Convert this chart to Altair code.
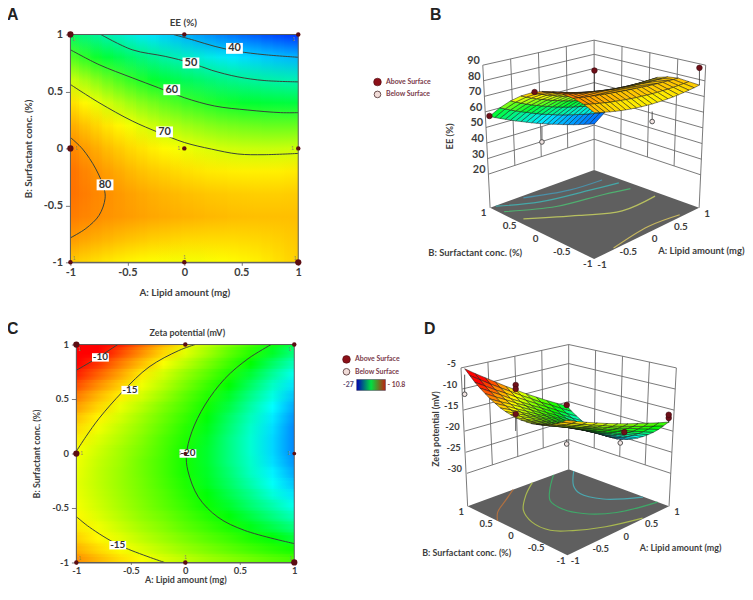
import altair as alt

TICKS = [-1, -0.5, 0, 0.5, 1]
COL_X = [round(-1 + 0.1 * i, 1) for i in range(21)]
ROW_Y = [round(-1 + 0.2 * i, 1) for i in range(11)]
ZETA_X = ROW_Y
ZETA_Y = COL_X

# EE (%), one row per B value (bottom to top), one value per A value
EE_VALUES = [
    [76.0, 75.1, 74.4, 73.7, 73.1, 72.6, 72.2, 71.9, 71.7, 71.5, 71.5, 71.5, 71.7, 71.9, 72.2, 72.6, 73.1, 73.7, 74.4, 75.1, 76.0],
    [79.8, 79.0, 78.3, 77.7, 77.1, 76.6, 76.2, 75.8, 75.5, 75.2, 75.0, 74.9, 74.8, 74.8, 74.8, 75.0, 75.1, 75.4, 75.7, 76.1, 76.5],
    [82.1, 81.6, 81.0, 80.5, 80.1, 79.7, 79.3, 78.9, 78.6, 78.3, 78.0, 77.8, 77.6, 77.4, 77.2, 77.1, 77.0, 77.0, 77.0, 77.0, 77.0],
    [83.0, 82.2, 81.4, 80.7, 80.0, 79.4, 78.8, 78.3, 77.8, 77.4, 77.0, 76.7, 76.4, 76.2, 76.0, 75.9, 75.8, 75.8, 75.8, 75.9, 76.0],
    [82.8, 81.6, 80.5, 79.5, 78.5, 77.6, 76.8, 76.1, 75.5, 74.9, 74.4, 74.0, 73.6, 73.4, 73.2, 73.1, 73.1, 73.1, 73.2, 73.4, 73.7],
    [81.2, 79.8, 78.5, 77.2, 76.1, 75.0, 74.1, 73.2, 72.4, 71.6, 71.0, 70.4, 70.0, 69.6, 69.3, 69.1, 69.0, 68.9, 69.0, 69.1, 69.3],
    [78.3, 76.7, 75.3, 73.9, 72.6, 71.4, 70.2, 69.2, 68.2, 67.4, 66.6, 65.9, 65.3, 64.8, 64.4, 64.1, 63.8, 63.6, 63.6, 63.6, 63.7],
    [74.2, 72.5, 70.9, 69.4, 68.0, 66.7, 65.4, 64.3, 63.2, 62.2, 61.3, 60.5, 59.8, 59.1, 58.6, 58.1, 57.7, 57.4, 57.2, 57.0, 57.0],
    [68.8, 67.1, 65.4, 63.8, 62.3, 60.9, 59.6, 58.3, 57.1, 56.0, 55.0, 54.1, 53.2, 52.4, 51.7, 51.1, 50.5, 50.0, 49.6, 49.3, 49.1],
    [62.1, 60.4, 58.7, 57.1, 55.6, 54.2, 52.8, 51.4, 50.1, 48.9, 47.8, 46.7, 45.7, 44.8, 43.9, 43.1, 42.3, 41.6, 40.9, 40.4, 39.9],
    [54.2, 52.5, 50.9, 49.3, 47.8, 46.3, 44.9, 43.5, 42.1, 40.8, 39.6, 38.4, 37.3, 36.2, 35.1, 34.1, 33.1, 32.2, 31.4, 30.6, 29.8],
]

# Zeta potential (mV), one row per B value (bottom to top), one value per A value
ZETA_VALUES = [
    [-12.8, -13.6, -14.4, -15.1, -15.8, -16.4, -17.0, -17.5, -18.0, -18.5, -18.9],
    [-13.5, -14.3, -15.1, -15.8, -16.5, -17.2, -17.8, -18.4, -19.0, -19.5, -20.0],
    [-14.1, -14.9, -15.6, -16.4, -17.1, -17.8, -18.5, -19.1, -19.8, -20.4, -21.1],
    [-14.6, -15.3, -16.1, -16.9, -17.6, -18.4, -19.1, -19.8, -20.6, -21.3, -22.0],
    [-14.9, -15.7, -16.5, -17.3, -18.0, -18.8, -19.6, -20.4, -21.2, -22.0, -22.8],
    [-15.2, -16.0, -16.8, -17.6, -18.4, -19.2, -20.1, -20.9, -21.8, -22.6, -23.5],
    [-15.4, -16.2, -17.0, -17.8, -18.6, -19.5, -20.4, -21.3, -22.2, -23.2, -24.1],
    [-15.5, -16.3, -17.1, -17.9, -18.8, -19.7, -20.7, -21.6, -22.6, -23.6, -24.6],
    [-15.4, -16.3, -17.1, -18.0, -18.9, -19.9, -20.8, -21.8, -22.9, -23.9, -25.0],
    [-15.3, -16.2, -17.0, -18.0, -18.9, -19.9, -20.9, -22.0, -23.0, -24.2, -25.3],
    [-15.1, -16.0, -16.9, -17.8, -18.8, -19.9, -20.9, -22.0, -23.1, -24.3, -25.5],
    [-14.7, -15.7, -16.6, -17.6, -18.7, -19.7, -20.8, -22.0, -23.1, -24.3, -25.5],
    [-14.3, -15.3, -16.3, -17.3, -18.4, -19.5, -20.6, -21.8, -23.0, -24.2, -25.5],
    [-13.8, -14.8, -15.9, -17.0, -18.1, -19.2, -20.4, -21.6, -22.8, -24.0, -25.3],
    [-13.1, -14.2, -15.4, -16.5, -17.7, -18.8, -20.0, -21.2, -22.5, -23.7, -25.0],
    [-12.4, -13.6, -14.7, -15.9, -17.1, -18.4, -19.6, -20.8, -22.1, -23.3, -24.6],
    [-11.5, -12.8, -14.0, -15.3, -16.5, -17.8, -19.1, -20.3, -21.6, -22.9, -24.1],
    [-10.6, -11.9, -13.2, -14.6, -15.9, -17.2, -18.4, -19.7, -21.0, -22.3, -23.5],
    [-9.6, -11.0, -12.4, -13.7, -15.1, -16.4, -17.7, -19.0, -20.3, -21.6, -22.8],
    [-8.4, -9.9, -11.4, -12.8, -14.2, -15.6, -16.9, -18.3, -19.5, -20.8, -22.0],
    [-7.2, -8.8, -10.3, -11.8, -13.3, -14.7, -16.1, -17.4, -18.7, -19.9, -21.1],
]

EE_STOPS = [(30, "#0030ff"), (44, "#00e8ff"), (58, "#00ff30"), (72, "#ffff00"), (92, "#ff0000")]
ZETA_STOPS = [(-26.8, "#0030ff"), (-23.7, "#00ffff"), (-20.3, "#00ff00"), (-15, "#ffff00"), (-10, "#ff0000")]

EE_CONTOURS = {
    "40": [(-0.096, 1), (0.09, 0.948), (0.27, 0.895), (0.47, 0.852), (0.7, 0.823), (1, 0.8)],
    "50": [(-0.733, 1), (-0.458, 0.866), (-0.168, 0.808), (0.06, 0.75), (0.24, 0.686), (0.47, 0.628), (0.7, 0.596), (1, 0.584)],
    "60": [(-1, 0.866), (-0.748, 0.735), (-0.458, 0.62), (-0.226, 0.532), (0, 0.445), (0.267, 0.372), (0.557, 0.337), (0.846, 0.314), (1, 0.314)],
    "70": [(-1, 0.561), (-0.748, 0.401), (-0.458, 0.241), (-0.226, 0.14), (0, 0.052), (0.238, -0.006), (0.47, -0.049), (0.7, -0.055), (1, -0.044)],
    "80": [(-1, 0.096), (-0.893, -0.006), (-0.777, -0.18), (-0.704, -0.355), (-0.696, -0.442), (-0.748, -0.587), (-0.864, -0.703), (-1, -0.785)],
}
EE_LABELS = [("40", 0.44, 0.878), ("50", 0.058, 0.75), ("60", -0.11, 0.515), ("70", -0.174, 0.145), ("80", -0.696, -0.32)]

ZETA_CONTOURS = {
    "-10": [(-1, 0.764), (-0.82, 0.87), (-0.62, 1)],
    "-15a": [(-1, 0.02), (-0.91, 0.158), (-0.79, 0.324), (-0.576, 0.567), (-0.333, 0.794), (-0.06, 0.945), (0.09, 1)],
    "-15b": [(-1, -0.579), (-0.88, -0.676), (-0.606, -0.842), (-0.19, -1)],
    "-20": [(0.788, 1), (0.576, 0.87), (0.364, 0.688), (0.18, 0.445), (0.06, 0.2), (0.01, -0.01), (0.024, -0.16), (0.12, -0.4), (0.3, -0.585), (0.545, -0.706), (1, -0.827)],
}
ZETA_LABELS = [("-10", -0.779, 0.882), ("-15", -0.509, 0.582), ("-15", -0.62, -0.842), ("-20", 0.024, 0)]

DESIGN_A = [-1, 0, 1, -1, 0, 1, -1, 0, 1]
DESIGN_B = [1, 1, 1, 0, 0, 0, -1, -1, -1]
EE_DESIGN_SIZE = [40, 20, 20, 40, 20, 20, 20, 20, 40]
ZETA_DESIGN_SIZE = [40, 20, 20, 40, 14, 14, 20, 20, 40]

# replicate counts printed next to the design points: A, B
REPLICATE_MARKS = [(-0.97, 0.96), (0.96, 0.96), (-0.95, 0), (-0.05, 0), (0.95, 0), (-0.97, -0.96), (0, -0.95), (0.97, -0.96)]

# contours on the floor of the 3D panels: A, B, colour
EE_FLOOR = [
    ([(-0.41, 0.95), (0.245, 0.725), (0.815, 0.665)], "#4a90a8"),
    ([(-0.9, 0.99), (-0.33, 0.71), (0.43, 0.535), (0.9, 0.43)], "#45a8a8"),
    ([(-0.93, 0.8), (-0.27, 0.46), (0.475, 0.295), (0.86, 0.17)], "#4fb070"),
    ([(-0.885, 0.475), (-0.24, 0.05), (0.265, -0.265), (0.9, -0.26)], "#b8c060"),
    ([(-0.6, -0.97), (0.16, -0.87), (0.685, -0.945)], "#c8b860"),
]
ZETA_FLOOR = [
    ([(-1, 0.4), (-0.8, 0.6), (-0.45, 0.8), (-0.1, 1)], "#b07040"),
    ([(0.28, 1), (-0.12, 0.73), (-0.48, 0.41), (-0.66, 0.055), (-0.65, -0.3), (-0.43, -0.53), (-0.03, -0.78), (0.5, -0.98)], "#a8b850"),
    ([(0.7, 1), (0.29, 0.66), (0.02, 0.38), (-0.05, 0.05), (0.05, -0.25), (0.39, -0.57), (1, -0.77)], "#3fa868"),
    ([(1, 0.9), (0.62, 0.52), (0.49, 0.26), (0.58, -0.11), (0.99, -0.49)], "#4aa8b0"),
]

# design points in the 3D panels: A, B, measured, surface, above
EE_POINTS = [
    (-1, 1, 54.5, 54.2, True), (-1, 0.14, 79.4, 80, True), (1, 1, 67, 30, True), (1, -1, 88, 76, True),
    (-1, 0, 46, 56.5, False), (1, -0.1, 42, 49, False),
]
ZETA_POINTS = [
    (-1, 0, -7.9, -12, True), (-1, 0, -8.8, -12, True), (-1, 0, -14.3, -18, True), (1, 1, -20.9, -22, True),
    (1, -0.13, -23.6, -25, True), (1, -1, -18, -19, True), (1, -1, -17.3, -19, True),
    (-1, 1, -12.8, -8.5, False), (-1, -1, -18, -17, False), (1, -0.05, -26.2, -24.8, False),
]

EE_TICKS = [90, 80, 70, 60, 50, 40, 30, 20]
ZETA_TICKS = [-5, -10, -15, -20, -25, -30]
FLOOR_TICKS = [1, 0.5, 0, -0.5, -1]

DARK = "#3d3d3d"
FONT = "Lato"


def colour_of(z, stops):
    if z <= stops[0][0]:
        return stops[0][1]
    for (z0, c0), (z1, c1) in zip(stops, stops[1:]):
        if z <= z1:
            t = (z - z0) / (z1 - z0)
            rgb = [round(int(c0[i:i + 2], 16) * (1 - t) + int(c1[i:i + 2], 16) * t) for i in (1, 3, 5)]
            return "#%02x%02x%02x" % tuple(rgb)
    return stops[-1][1]


def lerp(a, b, t):
    return a + (b - a) * t


def contour_rows(contours):
    rows = []
    for key, pts in contours.items():
        for i, (a, b) in enumerate(pts):
            rows.append({"key": key, "i": i, "a": a, "b": b})
    return rows


def flat_panel(strip_layers, contours, labels, design_sizes, title, title_x, title_y, letter, letter_x, letter_y, size, font_size, lab_w, lab_h, tick_font, x_tick, x_title_pad, y_title_pad):
    sx = alt.Scale(domain=[-1, 1], nice=False)
    sy = alt.Scale(domain=[-1, 1], nice=False)
    x_axis = alt.Axis(values=TICKS, labelExpr="'' + datum.value", title="A: Lipid amount (mg)", grid=False, labelFontSize=tick_font,
                      tickSize=x_tick, labelPadding=1.5, titlePadding=x_title_pad, labelFlush=False, titleFontSize=font_size)
    y_axis = alt.Axis(values=TICKS, labelExpr="'' + datum.value", title="B: Surfactant conc. (%)", grid=False, labelFontSize=tick_font,
                      tickSize=5, labelPadding=3, titlePadding=y_title_pad, labelFlush=False, titleFontSize=font_size)
    heat = []
    for k, (strips, op) in enumerate(strip_layers):
        x_enc = alt.X("x0:Q", scale=sx, axis=x_axis) if k == 0 else alt.X("x0:Q", scale=sx)
        y_enc = alt.Y("y0:Q", scale=sy, axis=y_axis) if k == 0 else alt.Y("y0:Q", scale=sy)
        heat.append(
            alt.Chart(alt.Data(values=strips))
            .mark_rect(clip=True, opacity=op)
            .encode(x=x_enc, x2="x1:Q", y=y_enc, y2="y1:Q", color=alt.Color("grad:N", scale=None))
        )
    lines = (
        alt.Chart(alt.Data(values=contour_rows(contours)))
        .mark_line(color="#39433a", strokeWidth=1, interpolate="catmull-rom", clip=True)
        .encode(x=alt.X("a:Q", scale=sx), y=alt.Y("b:Q", scale=sy), detail="key:N", order="i:Q")
    )
    dx, dy = lab_w / size, lab_h / size
    lab_rows = [{"t": t, "a": a, "b": b, "a0": a - dx, "a1": a + dx, "b0": b - dy, "b1": b + dy} for t, a, b in labels]
    boxes = (
        alt.Chart(alt.Data(values=lab_rows))
        .mark_rect(color="white")
        .encode(x=alt.X("a0:Q", scale=sx), x2="a1:Q", y=alt.Y("b0:Q", scale=sy), y2="b1:Q")
    )
    words = (
        alt.Chart(alt.Data(values=lab_rows))
        .mark_text(font=FONT, fontSize=font_size + 1, fontWeight="bold", color="#333333")
        .encode(x=alt.X("a:Q", scale=sx), y=alt.Y("b:Q", scale=sy), text="t:N")
    )
    border = (
        alt.Chart(alt.Data(values=[{"a0": -1, "a1": 1, "b0": -1, "b1": 1}]))
        .mark_rect(fillOpacity=0, stroke="#5a5a5a", strokeWidth=1)
        .encode(x=alt.X("a0:Q", scale=sx), x2="a1:Q", y=alt.Y("b0:Q", scale=sy), y2="b1:Q")
    )
    pts = (
        alt.Chart(alt.Data(values=[{"a": a, "b": b, "s": s} for a, b, s in zip(DESIGN_A, DESIGN_B, design_sizes)]))
        .mark_circle(color="#5c0d12", opacity=1, clip=False)
        .encode(x=alt.X("a:Q", scale=sx), y=alt.Y("b:Q", scale=sy), size=alt.Size("s:Q", scale=None))
    )
    reps = (
        alt.Chart(alt.Data(values=[{"a": a, "b": b, "t": "1"} for a, b in REPLICATE_MARKS]))
        .mark_text(font=FONT, fontSize=5, color="#8a8a6a")
        .encode(x=alt.X("a:Q", scale=sx), y=alt.Y("b:Q", scale=sy), text="t:N")
    )
    head = (
        alt.Chart(alt.Data(values=[{"t": title}]))
        .mark_text(font=FONT, fontSize=font_size, fontWeight="bold", color=DARK)
        .encode(x=alt.value(title_x), y=alt.value(title_y), text="t:N")
    )
    mark = (
        alt.Chart(alt.Data(values=[{"t": letter}]))
        .mark_text(font="Liberation Sans", fontSize=16, fontWeight="bold", color="#222222", align="left", baseline="alphabetic")
        .encode(x=alt.value(letter_x), y=alt.value(letter_y), text="t:N")
    )
    return alt.layer(*heat, lines, boxes, words, reps, border, pts, head, mark).properties(
        width=size, height=size, view=alt.ViewBackground(stroke=None)
    )


def surface_panel(cfg):
    x0, y0, w, h = cfg["frame"]
    sx = alt.Scale(domain=[x0, x0 + w], nice=False)
    sy = alt.Scale(domain=[y0 + h, y0], nice=False)
    enc = dict(x=alt.X("x:Q", scale=sx, axis=None), y=alt.Y("y:Q", scale=sy, axis=None))

    left, back, right, front = cfg["floor"]

    def floor(a, b):
        u, v = (a + 1) / 2, (b + 1) / 2
        return (
            lerp(lerp(front[0], right[0], u), lerp(left[0], back[0], u), v),
            lerp(lerp(front[1], right[1], u), lerp(left[1], back[1], u), v),
        )

    def skin(a, b, z):
        sc = cfg["skin"]
        return sc[0] + sc[1] * (a - b), sc[2] - sc[3] * (a + b) - sc[4] * z

    z_top, z_low = cfg["levels"]

    def post(name, z):
        f = (z_top - z) / (z_top - z_low)
        p = cfg["walls"][name]
        return lerp(p[0], p[1], f), lerp(p[2], p[3], f)

    def wall(t, z, far):
        p0, p1 = post(far, z), post("back", z)
        return lerp(p0[0], p1[0], t), lerp(p0[1], p1[1], t)

    def poly(points, c):
        ring = [[px - x0, py - y0] for px, py in points]
        ring.append(ring[0])
        return {"type": "Feature", "geometry": {"type": "Polygon", "coordinates": [ring]}, "properties": {"c": c}}

    # grid lines on both walls
    rules = []

    def seg(p, q):
        rules.append({"x": p[0], "y": p[1], "x2": q[0], "y2": q[1]})

    for far in ("left", "right"):
        for z in cfg["ticks"]:
            seg(wall(0, z, far), wall(1, z, far))
        for t in (0.25, 0.5, 0.75):
            seg(wall(t, z_top, far), wall(t, z_low, far))
    seg(post("left", z_top), left)
    seg(post("right", z_top), right)
    seg(post("back", z_top), back)

    floor_shape = (
        alt.Chart(alt.Data(values=[poly([left, back, right, front], "#5f5f5f")]))
        .mark_geoshape(strokeWidth=0)
        .encode(color=alt.Color("properties.c:N", scale=None))
        .project(type="identity", scale=1, translate=[0, 0])
    )
    grid = (
        alt.Chart(alt.Data(values=rules))
        .mark_rule(color="#6a6a6a", strokeWidth=0.9)
        .encode(x=enc["x"], y=enc["y"], x2="x2:Q", y2="y2:Q")
    )

    rows = []
    for k, (pts, c) in enumerate(cfg["floor_lines"]):
        for i, (a, b) in enumerate(pts):
            px, py = floor(a, b)
            rows.append({"key": k, "i": i, "x": px, "y": py, "c": c})
    floor_lines = (
        alt.Chart(alt.Data(values=rows))
        .mark_line(strokeWidth=1.2, interpolate="catmull-rom")
        .encode(x=enc["x"], y=enc["y"], detail="key:N", order="i:Q", color=alt.Color("c:N", scale=None))
    )

    # surface cells, far ones first
    xs, ys, vals = cfg["grid"]
    cells = []
    for j in range(len(ys) - 1):
        for i in range(len(xs) - 1):
            corners = [(i, j), (i + 1, j), (i + 1, j + 1), (i, j + 1)]
            mean = sum(vals[n][m] for m, n in corners) / 4
            outline = [skin(xs[m], ys[n], vals[n][m]) for m, n in corners]
            cells.append((xs[i] + ys[j], poly(outline, colour_of(mean, cfg["stops"]))))
    cells.sort(key=lambda c: -c[0])
    surface = (
        alt.Chart(alt.Data(values=[c[1] for c in cells]))
        .mark_geoshape(stroke="#141414", strokeWidth=0.5)
        .encode(color=alt.Color("properties.c:N", scale=None))
        .project(type="identity", scale=1, translate=[0, 0])
    )

    stems, above, below = [], [], []
    for a, b, z, zs, up in cfg["points"]:
        p, q = skin(a, b, z), skin(a, b, zs)
        stems.append({"x": p[0], "y": p[1], "x2": q[0], "y2": q[1]})
        (above if up else below).append({"x": p[0], "y": p[1]})
    stem_lines = (
        alt.Chart(alt.Data(values=stems))
        .mark_rule(color="#444444", strokeWidth=0.9)
        .encode(x=enc["x"], y=enc["y"], x2="x2:Q", y2="y2:Q")
    )
    up_pts = alt.Chart(alt.Data(values=above)).mark_point(
        filled=True, color="#6e0f18", size=32, opacity=1, stroke="#3a0a10", strokeWidth=0.6
    ).encode(**enc)
    low_pts = alt.Chart(alt.Data(values=below)).mark_point(
        filled=True, color="#f1e4e2", size=22, opacity=1, stroke="#505050", strokeWidth=1
    ).encode(**enc)

    def text_layer(rows, size, **kw):
        kw.setdefault("color", DARK)
        return (
            alt.Chart(alt.Data(values=rows))
            .mark_text(font=FONT, fontSize=size, fontWeight="bold", **kw)
            .encode(x=enc["x"], y=enc["y"], text="t:N")
        )

    z_rows = []
    for z in cfg["ticks"]:
        px, py = post("left", z)
        z_rows.append({"x": px - cfg["z_pad"], "y": py - 4, "t": str(z)})
    b_rows, a_rows = [], []
    for v in FLOOR_TICKS:
        px, py = floor(-1, v)
        b_rows.append({"x": px - 6.5, "y": py + 5.5, "t": str(v).replace(".0", "")})
        px, py = floor(v, -1)
        a_rows.append({"x": px + 8, "y": py + 6, "t": str(v).replace(".0", "")})

    layers = [
        floor_shape, grid, floor_lines, stem_lines, surface, up_pts, low_pts,
        text_layer(z_rows, cfg["z_font"], align="right"),
        text_layer(a_rows + b_rows, cfg["floor_font"]),
        text_layer([{"x": cfg["b_title"][0], "y": cfg["b_title"][1], "t": "B: Surfactant conc. (%)"},
                    {"x": cfg["a_title"][0], "y": cfg["a_title"][1], "t": "A: Lipid amount (mg)"}], cfg["floor_font"] - 0.5),
        text_layer([{"x": cfg["z_title"][0], "y": cfg["z_title"][1], "t": cfg["z_name"]}], cfg["floor_font"] - 0.5, angle=270),
        alt.Chart(alt.Data(values=[{"x": cfg["letter"][1], "y": cfg["letter"][2], "t": cfg["letter"][0]}]))
        .mark_text(font="Liberation Sans", fontSize=16, fontWeight="bold", color="#222222", align="left", baseline="alphabetic")
        .encode(x=enc["x"], y=enc["y"], text="t:N"),
    ]

    # Above / Below Surface key that sits between the columns
    kx, ky = cfg["key"]
    layers += [
        alt.Chart(alt.Data(values=[{"x": kx, "y": ky}])).mark_point(
            filled=True, color="#8c1018", size=60, opacity=1, stroke="#4a0a10", strokeWidth=0.6
        ).encode(**enc),
        alt.Chart(alt.Data(values=[{"x": kx, "y": ky + 12.5}])).mark_point(
            filled=True, color="#f1dcd8", size=45, opacity=1, stroke="#6a5050", strokeWidth=1
        ).encode(**enc),
        text_layer([{"x": kx + 8.5, "y": ky, "t": "Above Surface"}, {"x": kx + 8.5, "y": ky + 12.5, "t": "Below Surface"}],
                   7, align="left", color="#7a3a4a"),
    ]
    if "bar" in cfg:
        lo, hi, bx0, bx1, by0, by1 = cfg["bar"]
        layers += [
            alt.Chart(alt.Data(values=[{"x": bx0, "x2": bx1, "y": by0, "y2": by1}]))
            .mark_rect(
                stroke="#30304a",
                strokeWidth=0.5,
                color=alt.Gradient(
                    gradient="linear",
                    stops=[
                        alt.GradientStop(offset=0, color="#0000b8"),
                        alt.GradientStop(offset=0.5, color="#00e040"),
                        alt.GradientStop(offset=1, color="#c02010"),
                    ],
                    x1=0, x2=1, y1=0, y2=0,
                ),
            )
            .encode(x=enc["x"], y=enc["y"], x2="x2:Q", y2="y2:Q"),
            text_layer([{"x": bx0 - 3, "y": (by0 + by1) / 2, "t": lo}], 7, align="right", color="#5a4a70"),
            text_layer([{"x": bx1 + 2, "y": (by0 + by1) / 2, "t": hi}], 7, align="left", color="#7a3a4a"),
        ]
    return alt.layer(*layers).properties(width=w, height=h, view=alt.ViewBackground(stroke=None))


# colour strips run along the direction that changes fastest; shifted see-through
# copies hide the steps between neighbouring strips
def ee_strips(shift):
    out = []
    for i, a in enumerate(COL_X):
        stops = [
            {"offset": 1 - k / (len(ROW_Y) - 1), "color": colour_of(EE_VALUES[k][i], EE_STOPS)}
            for k in range(len(ROW_Y) - 1, -1, -1)
        ]
        out.append({
            "x0": a - 0.05 + shift, "x1": a + 0.06 + shift, "y0": -1, "y1": 1,
            "grad": {"gradient": "linear", "x1": 0, "y1": 0, "x2": 0, "y2": 1, "stops": stops},
        })
    return out


def zeta_strips(shift):
    out = []
    for j, b in enumerate(ZETA_Y):
        stops = [{"offset": k / (len(ZETA_X) - 1), "color": colour_of(ZETA_VALUES[j][k], ZETA_STOPS)} for k in range(len(ZETA_X))]
        out.append({
            "x0": -1, "x1": 1, "y0": b - 0.05 + shift, "y1": b + 0.06 + shift,
            "grad": {"gradient": "linear", "x1": 0, "y1": 0, "x2": 1, "y2": 0, "stops": stops},
        })
    return out


panel_a = flat_panel(
    [(ee_strips(0), 1), (ee_strips(0.05), 0.5), (ee_strips(0.025), 0.5)],
    EE_CONTOURS, EE_LABELS, EE_DESIGN_SIZE, "EE (%)", 114, -12, "A", -64, -15, 230, 10, 17, 11, 11, 3, 10, 10,
)
panel_c = flat_panel(
    [(zeta_strips(0), 1), (zeta_strips(0.05), 0.5), (zeta_strips(0.025), 0.5)],
    ZETA_CONTOURS, ZETA_LABELS, ZETA_DESIGN_SIZE, "Zeta potential  (mV)", 112, -12, "C", -70, -10.7, 220, 9, 17, 8.5, 9.5, 2, 0.5, 10,
)

panel_b = surface_panel({
    "frame": (336, 35, 405, 262),
    "floor": ((486.7, 210), (591.7, 171.7), (697.7, 210), (591.7, 261.7)),
    "skin": (592, 53, 196.3, 13.9, 1.45),
    "levels": (90, 20),
    "walls": {"left": (479.3, 485, 66, 176), "back": (591.7, 591.7, 40.7, 140.7), "right": (704.3, 699.3, 66, 176.7)},
    "ticks": EE_TICKS,
    "grid": (COL_X, ROW_Y, EE_VALUES),
    "stops": EE_STOPS,
    "floor_lines": EE_FLOOR,
    "points": EE_POINTS,
    "z_pad": 3,
    "z_font": 11,
    "floor_font": 10,
    "z_name": "EE (%)",
    "z_title": (446, 138),
    "b_title": (471.7, 256),
    "a_title": (700, 254),
    "letter": ("B", 426, 20.5),
    "key": (373, 83),
})

panel_d = surface_panel({
    "frame": (336, 345.7, 405, 238),
    "floor": ((470, 509), (572, 471.7), (673.3, 509), (570.7, 558.3)),
    "skin": (570, 51.5, 337, 13.15, 4.6),
    "levels": (-5, -30),
    "walls": {"left": (463.3, 469.3, 369.3, 475.7), "back": (572, 572, 345.7, 441.7), "right": (680.7, 675, 369.3, 475.7)},
    "ticks": ZETA_TICKS,
    "grid": (ZETA_X, ZETA_Y, ZETA_VALUES),
    "stops": ZETA_STOPS,
    "floor_lines": ZETA_FLOOR,
    "points": ZETA_POINTS,
    "z_pad": 5,
    "z_font": 9.5,
    "floor_font": 9.5,
    "z_name": "Zeta potential  (mV)",
    "z_title": (438, 431),
    "b_title": (469, 556),
    "a_title": (685, 551),
    "letter": ("D", 426, 335),
    "key": (347.7, 360.7),
    "bar": ("-27", "- 10.8", 358, 387, 381, 392),
})


def spacer():
    return alt.Chart(alt.Data(values=[{"v": 0}])).mark_point(opacity=0).encode(
        x=alt.value(0), y=alt.value(0)
    ).properties(width=1, height=1, view=alt.ViewBackground(stroke=None))


row1 = alt.hconcat(alt.hconcat(spacer(), panel_a, spacing=0), panel_b, spacing=39)
row2 = alt.hconcat(alt.hconcat(spacer(), panel_c, spacing=0), panel_d, spacing=37)

chart = (
    alt.vconcat(row1, row2, spacing=23)
    .properties(padding={"left": -7, "top": -4, "right": 0, "bottom": -3}, background="white")
    .configure_axis(
        labelFont=FONT, titleFont=FONT, labelFontWeight="bold", titleFontWeight="bold",
        titleFontSize=10, labelColor=DARK, titleColor=DARK,
        tickColor="#777777", domainColor="#555555",
    )
)

chart.save("out.html", embed_options={"renderer": "svg", "actions": False})
